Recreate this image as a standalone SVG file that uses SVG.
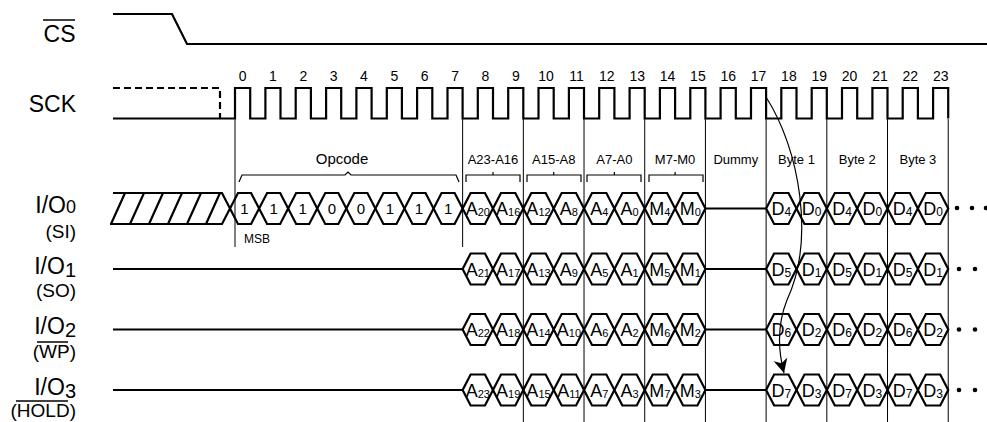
<svg xmlns="http://www.w3.org/2000/svg" xmlns:xlink="http://www.w3.org/1999/xlink" width="987" height="422" viewBox="0 0 987 422">
<style>
text{font-family:"Liberation Sans",Arial,sans-serif;fill:#000}
.lbl{font-size:23px;text-anchor:end}
.sub{font-size:19px;text-anchor:end}
.num{font-size:14px;text-anchor:middle}
.sec{font-size:13px;text-anchor:middle}
.bit{font-size:15px;text-anchor:middle}
.cell{font-size:18px;text-anchor:middle}
.sig{fill:none;stroke:#000;stroke-width:2.2;stroke-linejoin:miter}
.hex{fill:none;stroke:#000;stroke-width:2.2;stroke-linejoin:miter}
.guide{stroke:#000;stroke-width:1;fill:none}
.brace{fill:none;stroke:#000;stroke-width:1.2}
.ovl{stroke:#000;stroke-width:1.5}
.dot{fill:#000}
</style>
<defs>
<path id="hexO" class="hex" d="M0,0 L8,-15.5 L21.08,-15.5 L29.08,0 L21.08,15.5 L8,15.5 Z"/>
<path id="hexA" class="hex" d="M0,0 L8,-15.5 L22.35,-15.5 L30.35,0 L22.35,15.5 L8,15.5 Z"/>
<marker id="arr" markerWidth="16" markerHeight="16" refX="14" refY="8" orient="auto" markerUnits="userSpaceOnUse">
<path d="M14,8 L0,1 L4,8 L0,15 Z" fill="#000"/>
</marker>
</defs>
<rect width="987" height="422" fill="#fff"/>

<g id="labels">
<text class="lbl" x="75.5" y="42">CS</text>
<line class="ovl" x1="43" y1="20" x2="75" y2="20"/>
<text class="lbl" x="76" y="112">SCK</text>
<text class="lbl" x="76" y="213">I/O<tspan font-size="18">0</tspan></text>
<text class="sub" x="76" y="238">(SI)</text>
<text class="lbl" x="76" y="274">I/O<tspan font-size="20" dy="3">1</tspan></text>
<text class="sub" x="76" y="297">(SO)</text>
<text class="lbl" x="76" y="334">I/O<tspan font-size="20" dy="3">2</tspan></text>
<text class="sub" x="76" y="358">(WP)</text>
<line class="ovl" x1="37" y1="342" x2="68" y2="342"/>
<text class="lbl" x="76" y="395">I/O<tspan font-size="20" dy="3">3</tspan></text>
<text class="sub" x="76" y="417">(HOLD)</text>
<line class="ovl" x1="16" y1="401" x2="68" y2="401"/>
</g>

<g id="cs">
<path class="sig" d="M113,14 H172 L187,44 H987"/>
</g>

<g id="sck">
<path class="sig" d="M113,88 H220 V118.5" stroke-dasharray="7,4"/>
<path class="sig" d="M113,118.5 H235 V88 H250.2 V118.5 H265.4 V88 H280.5 V118.5 H295.7 V88 H310.9 V118.5 H326.1 V88 H341.2 V118.5 H356.4 V88 H371.6 V118.5 H386.8 V88 H401.9 V118.5 H417.1 V88 H432.3 V118.5 H447.5 V88 H462.6 V118.5 H477.8 V88 H493 V118.5 H508.2 V88 H523.3 V118.5 H538.5 V88 H553.7 V118.5 H568.9 V88 H584 V118.5 H599.2 V88 H614.4 V118.5 H629.6 V88 H644.7 V118.5 H659.9 V88 H675.1 V118.5 H690.3 V88 H705.4 V118.5 H720.6 V88 H735.8 V118.5 H751 V88 H766.1 V118.5 H781.3 V88 H796.5 V118.5 H811.7 V88 H826.8 V118.5 H842 V88 H857.2 V118.5 H872.4 V88 H887.5 V118.5 H902.7 V88 H917.9 V118.5 H933.1 V88 H948.2 V118.5"/>
<g id="cycle-numbers">
<text class="num" x="242.6" y="81">0</text>
<text class="num" x="273" y="81">1</text>
<text class="num" x="303.3" y="81">2</text>
<text class="num" x="333.7" y="81">3</text>
<text class="num" x="364" y="81">4</text>
<text class="num" x="394.4" y="81">5</text>
<text class="num" x="424.7" y="81">6</text>
<text class="num" x="455.1" y="81">7</text>
<text class="num" x="485.4" y="81">8</text>
<text class="num" x="515.8" y="81">9</text>
<text class="num" x="546.1" y="81">10</text>
<text class="num" x="576.5" y="81">11</text>
<text class="num" x="606.8" y="81">12</text>
<text class="num" x="637.2" y="81">13</text>
<text class="num" x="667.5" y="81">14</text>
<text class="num" x="697.9" y="81">15</text>
<text class="num" x="728.2" y="81">16</text>
<text class="num" x="758.6" y="81">17</text>
<text class="num" x="788.9" y="81">18</text>
<text class="num" x="819.3" y="81">19</text>
<text class="num" x="849.6" y="81">20</text>
<text class="num" x="880" y="81">21</text>
<text class="num" x="910.3" y="81">22</text>
<text class="num" x="940.7" y="81">23</text>
</g>
</g>

<g id="sections">
<text x="342" y="164" font-size="15" text-anchor="middle">Opcode</text>
<path class="brace" d="M239,182 L242,175 H345 L348,172 L351,175 H456 L459,182"/>
<text class="sec" x="493" y="164">A23-A16</text>
<path class="brace" d="M466,182 V175 H493 V172 M493,175 H520 V182"/>
<text class="sec" x="553.7" y="164">A15-A8</text>
<path class="brace" d="M527,182 V175 H553.7 V172 M553.7,175 H581 V182"/>
<text class="sec" x="614.4" y="164">A7-A0</text>
<path class="brace" d="M587,182 V175 H614.4 V172 M614.4,175 H641 V182"/>
<text class="sec" x="675.1" y="164">M7-M0</text>
<path class="brace" d="M649,182 V175 H675.1 V172 M675.1,175 H703 V182"/>
<text class="sec" x="735.8" y="164">Dummy</text>
<text class="sec" x="796.5" y="164">Byte 1</text>
<text class="sec" x="857.2" y="164">Byte 2</text>
<text class="sec" x="917.9" y="164">Byte 3</text>
<text x="244" y="243" font-size="12">MSB</text>
</g>

<g id="io0">
<path class="sig" d="M113,193 H222 L230,208.5 L222,224 H110"/>
<path class="sig" d="M111,224 L125,193 M130,224 L144,193 M149,224 L163,193 M168,224 L182,193 M187,224 L201,193 M206,224 L220,193"/>
<use xlink:href="#hexO" x="230" y="208.5"/>
<use xlink:href="#hexO" x="259.08" y="208.5"/>
<use xlink:href="#hexO" x="288.16" y="208.5"/>
<use xlink:href="#hexO" x="317.24" y="208.5"/>
<use xlink:href="#hexO" x="346.32" y="208.5"/>
<use xlink:href="#hexO" x="375.4" y="208.5"/>
<use xlink:href="#hexO" x="404.48" y="208.5"/>
<use xlink:href="#hexO" x="433.55" y="208.5"/>
<text class="bit" x="244.5" y="214">1</text>
<text class="bit" x="273.6" y="214">1</text>
<text class="bit" x="302.7" y="214">1</text>
<text class="bit" x="331.8" y="214">0</text>
<text class="bit" x="360.9" y="214">0</text>
<text class="bit" x="389.9" y="214">1</text>
<text class="bit" x="419" y="214">1</text>
<text class="bit" x="448.1" y="214">1</text>
<use xlink:href="#hexA" x="462.63" y="208.5"/>
<use xlink:href="#hexA" x="492.98" y="208.5"/>
<use xlink:href="#hexA" x="523.33" y="208.5"/>
<use xlink:href="#hexA" x="553.68" y="208.5"/>
<use xlink:href="#hexA" x="584.03" y="208.5"/>
<use xlink:href="#hexA" x="614.38" y="208.5"/>
<use xlink:href="#hexA" x="644.73" y="208.5"/>
<use xlink:href="#hexA" x="675.08" y="208.5"/>
<text class="cell" x="477.8" y="215">A<tspan font-size="11" dy="1">20</tspan></text>
<text class="cell" x="508.2" y="215">A<tspan font-size="11" dy="1">16</tspan></text>
<text class="cell" x="538.5" y="215">A<tspan font-size="11" dy="1">12</tspan></text>
<text class="cell" x="568.9" y="215">A<tspan font-size="11" dy="1">8</tspan></text>
<text class="cell" x="599.2" y="215">A<tspan font-size="11" dy="1">4</tspan></text>
<text class="cell" x="629.6" y="215">A<tspan font-size="11" dy="1">0</tspan></text>
<text class="cell" x="659.9" y="215">M<tspan font-size="11" dy="1">4</tspan></text>
<text class="cell" x="690.3" y="215">M<tspan font-size="11" dy="1">0</tspan></text>
<path class="sig" d="M705.43,208.5 H766.13"/>
<use xlink:href="#hexA" x="766.13" y="208.5"/>
<use xlink:href="#hexA" x="796.48" y="208.5"/>
<use xlink:href="#hexA" x="826.83" y="208.5"/>
<use xlink:href="#hexA" x="857.18" y="208.5"/>
<use xlink:href="#hexA" x="887.53" y="208.5"/>
<use xlink:href="#hexA" x="917.88" y="208.5"/>
<text class="cell" x="781.3" y="215">D<tspan font-size="12" dy="1">4</tspan></text>
<text class="cell" x="811.7" y="215">D<tspan font-size="12" dy="1">0</tspan></text>
<text class="cell" x="842" y="215">D<tspan font-size="12" dy="1">4</tspan></text>
<text class="cell" x="872.4" y="215">D<tspan font-size="12" dy="1">0</tspan></text>
<text class="cell" x="902.7" y="215">D<tspan font-size="12" dy="1">4</tspan></text>
<text class="cell" x="933.1" y="215">D<tspan font-size="12" dy="1">0</tspan></text>
<circle class="dot" cx="957" cy="208" r="2.3"/>
<circle class="dot" cx="972" cy="208" r="2.3"/>
<circle class="dot" cx="986" cy="208" r="2.3"/>
</g>

<g id="io1">
<path class="sig" d="M113,269 H462.63 M705.43,269 H766.13"/>
<use xlink:href="#hexA" x="462.63" y="269"/>
<use xlink:href="#hexA" x="492.98" y="269"/>
<use xlink:href="#hexA" x="523.33" y="269"/>
<use xlink:href="#hexA" x="553.68" y="269"/>
<use xlink:href="#hexA" x="584.03" y="269"/>
<use xlink:href="#hexA" x="614.38" y="269"/>
<use xlink:href="#hexA" x="644.73" y="269"/>
<use xlink:href="#hexA" x="675.08" y="269"/>
<text class="cell" x="477.8" y="275.5">A<tspan font-size="11" dy="1">21</tspan></text>
<text class="cell" x="508.2" y="275.5">A<tspan font-size="11" dy="1">17</tspan></text>
<text class="cell" x="538.5" y="275.5">A<tspan font-size="11" dy="1">13</tspan></text>
<text class="cell" x="568.9" y="275.5">A<tspan font-size="11" dy="1">9</tspan></text>
<text class="cell" x="599.2" y="275.5">A<tspan font-size="11" dy="1">5</tspan></text>
<text class="cell" x="629.6" y="275.5">A<tspan font-size="11" dy="1">1</tspan></text>
<text class="cell" x="659.9" y="275.5">M<tspan font-size="11" dy="1">5</tspan></text>
<text class="cell" x="690.3" y="275.5">M<tspan font-size="11" dy="1">1</tspan></text>
<use xlink:href="#hexA" x="766.13" y="269"/>
<use xlink:href="#hexA" x="796.48" y="269"/>
<use xlink:href="#hexA" x="826.83" y="269"/>
<use xlink:href="#hexA" x="857.18" y="269"/>
<use xlink:href="#hexA" x="887.53" y="269"/>
<use xlink:href="#hexA" x="917.88" y="269"/>
<text class="cell" x="781.3" y="275.5">D<tspan font-size="12" dy="1">5</tspan></text>
<text class="cell" x="811.7" y="275.5">D<tspan font-size="12" dy="1">1</tspan></text>
<text class="cell" x="842" y="275.5">D<tspan font-size="12" dy="1">5</tspan></text>
<text class="cell" x="872.4" y="275.5">D<tspan font-size="12" dy="1">1</tspan></text>
<text class="cell" x="902.7" y="275.5">D<tspan font-size="12" dy="1">5</tspan></text>
<text class="cell" x="933.1" y="275.5">D<tspan font-size="12" dy="1">1</tspan></text>
<circle class="dot" cx="959" cy="269" r="2.3"/>
<circle class="dot" cx="975" cy="269" r="2.3"/>
</g>

<g id="io2">
<path class="sig" d="M113,329.5 H462.63 M705.43,329.5 H766.13"/>
<use xlink:href="#hexA" x="462.63" y="329.5"/>
<use xlink:href="#hexA" x="492.98" y="329.5"/>
<use xlink:href="#hexA" x="523.33" y="329.5"/>
<use xlink:href="#hexA" x="553.68" y="329.5"/>
<use xlink:href="#hexA" x="584.03" y="329.5"/>
<use xlink:href="#hexA" x="614.38" y="329.5"/>
<use xlink:href="#hexA" x="644.73" y="329.5"/>
<use xlink:href="#hexA" x="675.08" y="329.5"/>
<text class="cell" x="477.8" y="336">A<tspan font-size="11" dy="1">22</tspan></text>
<text class="cell" x="508.2" y="336">A<tspan font-size="11" dy="1">18</tspan></text>
<text class="cell" x="538.5" y="336">A<tspan font-size="11" dy="1">14</tspan></text>
<text class="cell" x="568.9" y="336">A<tspan font-size="11" dy="1">10</tspan></text>
<text class="cell" x="599.2" y="336">A<tspan font-size="11" dy="1">6</tspan></text>
<text class="cell" x="629.6" y="336">A<tspan font-size="11" dy="1">2</tspan></text>
<text class="cell" x="659.9" y="336">M<tspan font-size="11" dy="1">6</tspan></text>
<text class="cell" x="690.3" y="336">M<tspan font-size="11" dy="1">2</tspan></text>
<use xlink:href="#hexA" x="766.13" y="329.5"/>
<use xlink:href="#hexA" x="796.48" y="329.5"/>
<use xlink:href="#hexA" x="826.83" y="329.5"/>
<use xlink:href="#hexA" x="857.18" y="329.5"/>
<use xlink:href="#hexA" x="887.53" y="329.5"/>
<use xlink:href="#hexA" x="917.88" y="329.5"/>
<text class="cell" x="781.3" y="336">D<tspan font-size="12" dy="1">6</tspan></text>
<text class="cell" x="811.7" y="336">D<tspan font-size="12" dy="1">2</tspan></text>
<text class="cell" x="842" y="336">D<tspan font-size="12" dy="1">6</tspan></text>
<text class="cell" x="872.4" y="336">D<tspan font-size="12" dy="1">2</tspan></text>
<text class="cell" x="902.7" y="336">D<tspan font-size="12" dy="1">6</tspan></text>
<text class="cell" x="933.1" y="336">D<tspan font-size="12" dy="1">2</tspan></text>
<circle class="dot" cx="959" cy="329.5" r="2.3"/>
<circle class="dot" cx="975" cy="329.5" r="2.3"/>
</g>

<g id="io3">
<path class="sig" d="M113,390 H462.63 M705.43,390 H766.13"/>
<use xlink:href="#hexA" x="462.63" y="390"/>
<use xlink:href="#hexA" x="492.98" y="390"/>
<use xlink:href="#hexA" x="523.33" y="390"/>
<use xlink:href="#hexA" x="553.68" y="390"/>
<use xlink:href="#hexA" x="584.03" y="390"/>
<use xlink:href="#hexA" x="614.38" y="390"/>
<use xlink:href="#hexA" x="644.73" y="390"/>
<use xlink:href="#hexA" x="675.08" y="390"/>
<text class="cell" x="477.8" y="396.5">A<tspan font-size="11" dy="1">23</tspan></text>
<text class="cell" x="508.2" y="396.5">A<tspan font-size="11" dy="1">19</tspan></text>
<text class="cell" x="538.5" y="396.5">A<tspan font-size="11" dy="1">15</tspan></text>
<text class="cell" x="568.9" y="396.5">A<tspan font-size="11" dy="1">11</tspan></text>
<text class="cell" x="599.2" y="396.5">A<tspan font-size="11" dy="1">7</tspan></text>
<text class="cell" x="629.6" y="396.5">A<tspan font-size="11" dy="1">3</tspan></text>
<text class="cell" x="659.9" y="396.5">M<tspan font-size="11" dy="1">7</tspan></text>
<text class="cell" x="690.3" y="396.5">M<tspan font-size="11" dy="1">3</tspan></text>
<use xlink:href="#hexA" x="766.13" y="390"/>
<use xlink:href="#hexA" x="796.48" y="390"/>
<use xlink:href="#hexA" x="826.83" y="390"/>
<use xlink:href="#hexA" x="857.18" y="390"/>
<use xlink:href="#hexA" x="887.53" y="390"/>
<use xlink:href="#hexA" x="917.88" y="390"/>
<text class="cell" x="781.3" y="396.5">D<tspan font-size="12" dy="1">7</tspan></text>
<text class="cell" x="811.7" y="396.5">D<tspan font-size="12" dy="1">3</tspan></text>
<text class="cell" x="842" y="396.5">D<tspan font-size="12" dy="1">7</tspan></text>
<text class="cell" x="872.4" y="396.5">D<tspan font-size="12" dy="1">3</tspan></text>
<text class="cell" x="902.7" y="396.5">D<tspan font-size="12" dy="1">7</tspan></text>
<text class="cell" x="933.1" y="396.5">D<tspan font-size="12" dy="1">3</tspan></text>
<circle class="dot" cx="959" cy="390" r="2.3"/>
<circle class="dot" cx="975" cy="390" r="2.3"/>
</g>

<g id="connectors">
<g id="guides">
<path class="guide" d="M235,119 V247 M462.63,119 V247 M523.33,119 V422 M584.03,119 V422 M644.73,119 V422 M705.43,119 V422 M766.13,119 V422 M826.83,119 V422 M887.53,119 V422 M948.23,119 V422"/>
</g>
<path id="edge-sck-d7" fill="none" stroke="#000" stroke-width="1.2" d="M766,97 C800,150 815,240 787,300 C777,325 778,350 784,373" marker-end="url(#arr)"/>
</g>
</svg>
